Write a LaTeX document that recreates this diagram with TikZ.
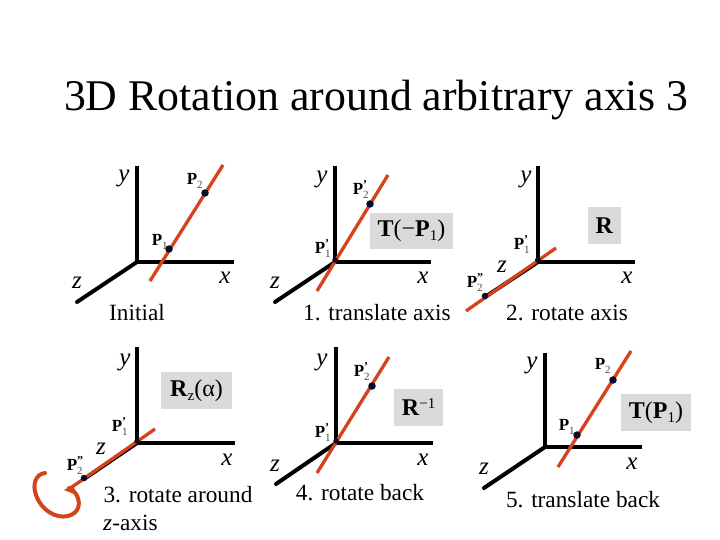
\documentclass[tikz,border=0pt]{standalone}
\usepackage{fontspec}
\setmainfont{Liberation Serif}
\definecolor{axred}{HTML}{D5421C}
\definecolor{boxgray}{HTML}{DADADA}
\definecolor{dotnavy}{HTML}{0A0A28}
\newcommand{\sz}[1]{\fontsize{#1}{#1}\selectfont}
\newcommand{\ptlab}[3]{\textbf{P}\rlap{\raisebox{-4pt}{\sz{11}\color{black!70}#1}}\rlap{\raisebox{6pt}{\sz{12}\textbf{#2}}}#3}
\newcommand{\subn}[1]{\raisebox{-4pt}{\sz{15}#1}}
\tikzset{
  axisline/.style={line width=4pt,black,line cap=round},
  redline/.style={line width=3.3pt,axred},
  dotmark/.style={circle,fill=dotnavy,inner sep=0pt,minimum size=7.5pt},
  axlab/.style={font=\sz{25}\itshape,inner sep=0pt},
  ptname/.style={font=\sz{17},inner sep=0pt},
  caption/.style={font=\sz{23.3},inner sep=0pt},
  opbox/.style={fill=boxgray,inner sep=0pt,font=\sz{24}},
}
\begin{document}
\begin{tikzpicture}[x=1pt,y=-1pt]
\useasboundingbox (0,0) rectangle (720,540);
\fill[white] (0,0) rectangle (720,540);
\node[font=\sz{43.8},inner sep=0pt] (title) at (376,100) {3D Rotation around arbitrary axis 3};

% Panel 1
\coordinate (o1) at (137,262); \coordinate (y1) at (137,166); \coordinate (x1) at (234,262); \coordinate (z1) at (77,302);
\coordinate (ra1) at (150,281); \coordinate (rb1) at (223,165);
\draw[axisline,line cap=butt] (y1) -- (o1) -- (x1);
\draw[axisline] (o1) -- (z1);
\draw[redline] (ra1) -- (rb1);
\node[dotmark] (p1a) at (169,249) {};
\node[dotmark] (p1b) at (205,193) {};
\node[ptname] (l1a) at (157,242) {\ptlab{1}{}{}};
\node[ptname] (l1b) at (192,181) {\ptlab{2}{}{}};
\node[axlab] (ly1) at (124,178) {y};
\node[axlab] (lx1) at (225,278) {x};
\node[axlab] (lz1) at (77,283) {z};
\node[caption] (c1) at (137,313) {Initial};

% Panel 2
\coordinate (o2) at (335,262); \coordinate (y2) at (335,166); \coordinate (x2) at (431,262); \coordinate (z2) at (275,302);
\coordinate (ra2) at (317,291); \coordinate (rb2) at (388,175);
\draw[axisline,line cap=butt] (y2) -- (o2) -- (x2);
\draw[axisline] (o2) -- (z2);
\draw[redline] (ra2) -- (rb2);
\node[dotmark,minimum size=5.5pt] (p2a) at (335,260) {};
\node[dotmark] (p2b) at (370,204) {};
\node[ptname] (l2a) at (320,249) {\ptlab{1}{'}{}};
\node[ptname] (l2b) at (358,190) {\ptlab{2}{'}{}};
\node[axlab] (ly2) at (322,179) {y};
\node[axlab] (lx2) at (423,278) {x};
\node[axlab] (lz2) at (275,283) {z};
\node[caption] (c2) at (377,313) {1. translate axis};
\node[opbox,minimum width=83pt,minimum height=36pt] (b2) at (411.5,231) {\textbf{T}(−\textbf{P}\subn{1})};

% Panel 3
\coordinate (o3) at (538,262); \coordinate (y3) at (538,166); \coordinate (x3) at (635,262); \coordinate (z3) at (485,297);
\coordinate (ra3) at (466,311); \coordinate (rb3) at (556,248);
\draw[axisline,line cap=butt] (y3) -- (o3) -- (x3);
\draw[axisline] (o3) -- (z3);
\draw[redline] (ra3) -- (rb3);
\node[dotmark,minimum size=6pt] (p3a) at (538,260) {};
\node[dotmark,minimum size=6.5pt] (p3b) at (485,296) {};
\node[ptname] (l3a) at (519,245) {\ptlab{1}{'}{}};
\node[ptname] (l3b) at (472,283) {\ptlab{2}{''}{}};
\node[axlab] (ly3) at (526,179) {y};
\node[axlab] (lx3) at (627,278) {x};
\node[axlab] (lz3) at (502,267) {z};
\node[caption] (c3) at (567,313) {2. rotate axis};
\node[opbox,minimum width=33pt,minimum height=37pt] (b3) at (604.5,225.5) {\textbf{R}};

% Panel 4
\coordinate (o4) at (137,443); \coordinate (y4) at (137,347); \coordinate (x4) at (235,443); \coordinate (z4) at (84,479);
\coordinate (ra4) at (72,487); \coordinate (rb4) at (155,429);
\draw[axisline,line cap=butt] (y4) -- (o4) -- (x4);
\draw[axisline] (o4) -- (z4);
\draw[redline] (ra4) -- (rb4);
\draw[redline,line width=4pt,line cap=round] (45,473) .. controls (36,474) and (32,484) .. (36,495) .. controls (41,510) and (56,519) .. (68,516) .. controls (80,513) and (81,502) .. (76,494) .. controls (74,491) and (72,489) .. (69,488);
\fill[axred] (64,490) -- (74,484) -- (74,494) -- cycle;
\node[dotmark,minimum size=5.5pt] (p4a) at (137,441) {};
\node[dotmark,minimum size=6.5pt] (p4b) at (84,478) {};
\node[ptname] (l4a) at (117,427) {\ptlab{1}{'}{}};
\node[ptname] (l4b) at (72,466) {\ptlab{2}{''}{}};
\node[axlab] (ly4) at (125,362) {y};
\node[axlab] (lx4) at (227,460) {x};
\node[axlab] (lz4) at (101,449) {z};
\node[caption] (c4a) at (178,495) {3. rotate around};
\node[caption,anchor=west] (c4b) at (103,523) {\textit{z}-axis};
\node[opbox,minimum width=71pt,minimum height=37pt] (b4) at (196.5,390.5) {\textbf{R}\subn{z}(α)};

% Panel 5
\coordinate (o5) at (336,443); \coordinate (y5) at (336,347); \coordinate (x5) at (433,443); \coordinate (z5) at (276,484);
\coordinate (ra5) at (317,473); \coordinate (rb5) at (389,357);
\draw[axisline,line cap=butt] (y5) -- (o5) -- (x5);
\draw[axisline] (o5) -- (z5);
\draw[redline] (ra5) -- (rb5);
\node[dotmark,minimum size=5.5pt] (p5a) at (336,441) {};
\node[dotmark] (p5b) at (372,386) {};
\node[ptname] (l5a) at (320,433) {\ptlab{1}{'}{}};
\node[ptname] (l5b) at (359,372) {\ptlab{2}{'}{}};
\node[axlab] (ly5) at (322,362) {y};
\node[axlab] (lx5) at (423,460) {x};
\node[axlab] (lz5) at (275,466) {z};
\node[caption] (c5) at (360,493) {4. rotate back};
\node[opbox,minimum width=49pt,minimum height=37pt] (b5) at (418.5,407.5) {\textbf{R}\raisebox{7pt}{\sz{15}−1}};

% Panel 6
\coordinate (o6) at (545,447); \coordinate (y6) at (545,353); \coordinate (x6) at (642,447); \coordinate (z6) at (484,488);
\coordinate (ra6) at (558,467); \coordinate (rb6) at (631,351);
\draw[axisline,line cap=butt] (y6) -- (o6) -- (x6);
\draw[axisline] (o6) -- (z6);
\draw[redline] (ra6) -- (rb6);
\node[dotmark] (p6a) at (577,435) {};
\node[dotmark] (p6b) at (613,380) {};
\node[ptname] (l6a) at (564,427) {\ptlab{1}{}{}};
\node[ptname] (l6b) at (600,366) {\ptlab{2}{}{}};
\node[axlab] (ly6) at (532,365) {y};
\node[axlab] (lx6) at (632,464) {x};
\node[axlab] (lz6) at (484,469) {z};
\node[caption] (c6) at (583,500) {5. translate back};
\node[opbox,minimum width=70pt,minimum height=37pt] (b6) at (656,412.5) {\textbf{T}(\textbf{P}\subn{1})};
\end{tikzpicture}
\end{document}
